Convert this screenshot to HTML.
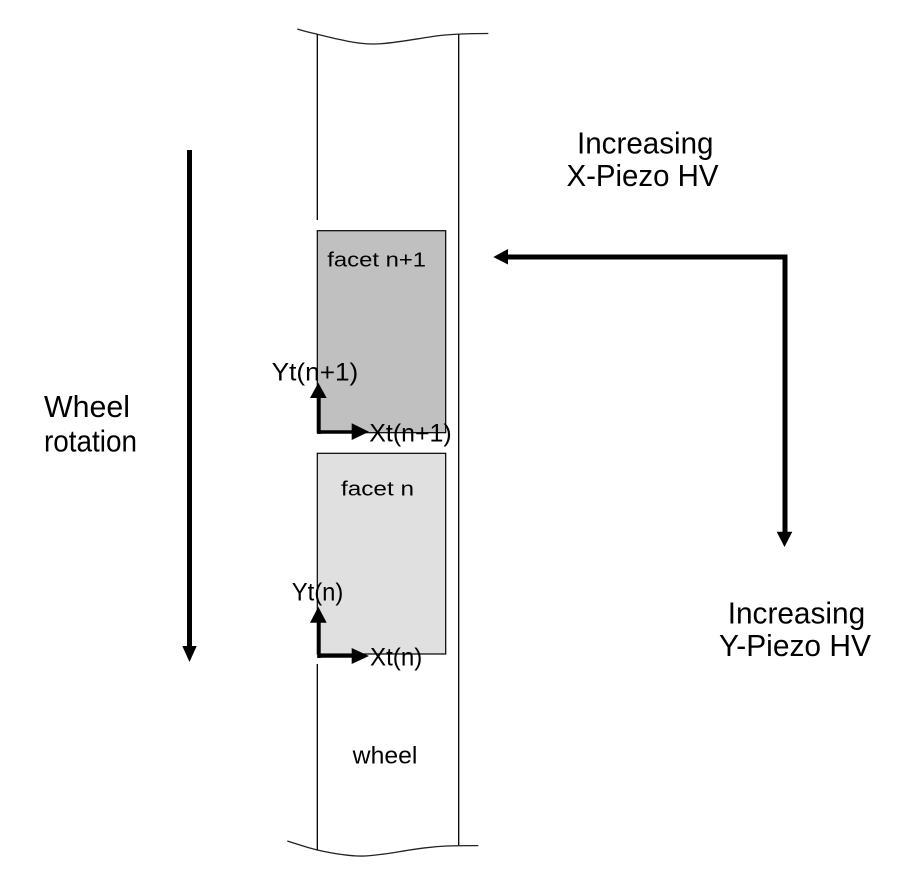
<!DOCTYPE html>
<html>
<head>
<meta charset="utf-8">
<style>
  html,body{margin:0;padding:0;background:#fff;}
  svg{display:block;}
  text{font-family:"Liberation Sans", Arial, sans-serif; fill:#000;}
</style>
</head>
<body>
<svg width="904" height="889" viewBox="0 0 904 889" xmlns="http://www.w3.org/2000/svg">
  <rect x="0" y="0" width="904" height="889" fill="#fff"/>

  <!-- wheel break curves -->
  <path d="M297.3,29 C305,31.5 310,32.5 317.3,34.3 C340,40 360,44.5 375,44 C395,43.5 420,38 440,35.5 C455,34 470,33.5 488.3,33.5" fill="none" stroke="#222" stroke-width="1.3"/>
  <path d="M287.3,841 C297,844 307,847.5 317.3,850 C335,854 350,856.5 365,856 C385,855 405,850 426.7,847.7 C440,846 450,845.5 478.3,845.6" fill="none" stroke="#222" stroke-width="1.3"/>

  <!-- wheel edges -->
  <line x1="317.3" y1="34.3" x2="317.3" y2="220" stroke="#000" stroke-width="1.3"/>
  <line x1="317.3" y1="664" x2="317.3" y2="850" stroke="#000" stroke-width="1.3"/>
  <line x1="458.7" y1="34" x2="458.7" y2="845.3" stroke="#000" stroke-width="1.3"/>

  <!-- facets -->
  <rect x="317.3" y="230.7" width="128.4" height="202" fill="#c0c0c0" stroke="#000" stroke-width="1.2"/>
  <rect x="317.3" y="453.3" width="128.4" height="200.7" fill="#e0e0e0" stroke="#000" stroke-width="1.2"/>

  <text x="327.3" y="266.5" font-size="20" textLength="98.7" lengthAdjust="spacingAndGlyphs">facet n+1</text>
  <text x="341" y="495.5" font-size="20" textLength="73" lengthAdjust="spacingAndGlyphs">facet n</text>

  <!-- facet n+1 axes -->
  <line x1="319" y1="434" x2="319" y2="396" stroke="#000" stroke-width="3.4"/>
  <polygon points="310,398 326.7,398 318.3,382.7" fill="#000"/>
  <line x1="317.3" y1="432" x2="353" y2="432" stroke="#000" stroke-width="3.4"/>
  <polygon points="351.7,423.3 351.7,440 369,431.7" fill="#000"/>
  <text x="271.7" y="380.5" font-size="25" textLength="86.6" lengthAdjust="spacingAndGlyphs">Yt(n+1)</text>
  <text x="369.3" y="441.5" font-size="25" textLength="82.4" lengthAdjust="spacingAndGlyphs">Xt(n+1)</text>

  <!-- facet n axes -->
  <line x1="319" y1="658" x2="319" y2="621" stroke="#000" stroke-width="3.4"/>
  <polygon points="310,622.7 326.7,622.7 318.3,606.7" fill="#000"/>
  <line x1="317.3" y1="656" x2="353" y2="656" stroke="#000" stroke-width="3.4"/>
  <polygon points="351.7,648 351.7,664 369,656" fill="#000"/>
  <text x="291.7" y="600.5" font-size="25" textLength="51.7" lengthAdjust="spacingAndGlyphs">Yt(n)</text>
  <text x="370" y="665.5" font-size="25" textLength="52.3" lengthAdjust="spacingAndGlyphs">Xt(n)</text>

  <text x="352.7" y="763.5" font-size="24" textLength="64.7" lengthAdjust="spacingAndGlyphs">wheel</text>

  <!-- wheel rotation arrow -->
  <line x1="189.5" y1="150" x2="189.5" y2="648" stroke="#000" stroke-width="5"/>
  <polygon points="182.3,646 196.7,646 189.5,662" fill="#000"/>
  <text x="44" y="417" font-size="30.5" textLength="86" lengthAdjust="spacingAndGlyphs">Wheel</text>
  <text x="44" y="451.3" font-size="30.5" textLength="93" lengthAdjust="spacingAndGlyphs">rotation</text>

  <!-- piezo arrows -->
  <polyline points="506,257 785,257 785,534" fill="none" stroke="#000" stroke-width="5" stroke-linejoin="miter"/>
  <polygon points="493.3,257 508,249 508,264.5" fill="#000"/>
  <polygon points="776.7,531.7 792.3,531.7 784.5,547" fill="#000"/>

  <text x="577" y="153.5" font-size="30.5" textLength="136.5" lengthAdjust="spacingAndGlyphs">Increasing</text>
  <text x="566.5" y="186" font-size="30.5" textLength="152" lengthAdjust="spacingAndGlyphs">X-Piezo HV</text>

  <text x="727.7" y="623.5" font-size="30.5" textLength="137.5" lengthAdjust="spacingAndGlyphs">Increasing</text>
  <text x="719" y="656" font-size="30.5" textLength="152" lengthAdjust="spacingAndGlyphs">Y-Piezo HV</text>
</svg>
</body>
</html>
